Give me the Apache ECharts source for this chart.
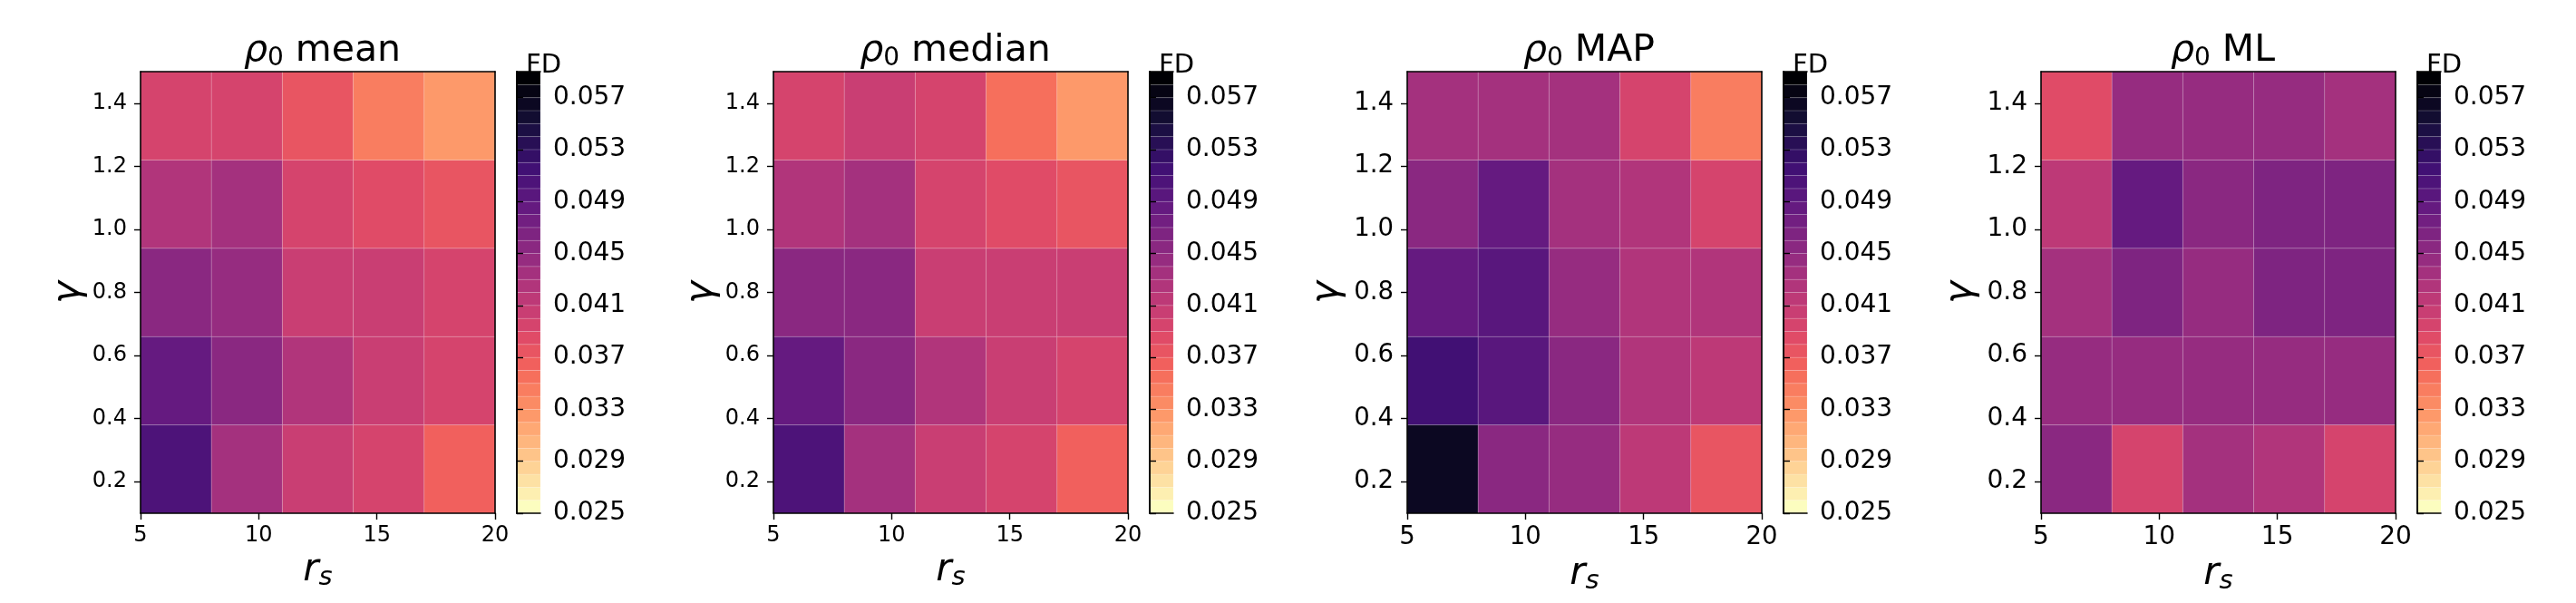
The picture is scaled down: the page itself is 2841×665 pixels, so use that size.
<!DOCTYPE html>
<html>
<head>
<meta charset="utf-8">
<script src="https://cdn.jsdelivr.net/npm/echarts@6/dist/echarts.min.js"></script>
<style>
  html, body { margin: 0; padding: 0; background: #fff; }
  #chart { width: 2841px; height: 665px; }
</style>
</head>
<body>
<div id="chart"></div>
<script>
// cell edges (imshow extent 5..20 x 0.1..1.5)
const rsEdges = [5, 8, 11, 14, 17, 20];
const gammaEdges = [0.1, 0.38, 0.66, 0.94, 1.22, 1.5];
const xTicks = [5, 10, 15, 20];
const yTicks = [0.2, 0.4, 0.6, 0.8, 1.0, 1.2, 1.4];
const cbTicks = [0.025, 0.029, 0.033, 0.037, 0.041, 0.045, 0.049, 0.053, 0.057];
// colorbar level boundaries
const fdLevels = [0.025, 0.026, 0.027, 0.028, 0.029, 0.030, 0.031, 0.032, 0.033, 0.034,
  0.035, 0.036, 0.037, 0.038, 0.039, 0.040, 0.041, 0.042, 0.043, 0.044, 0.045, 0.046,
  0.047, 0.048, 0.049, 0.050, 0.051, 0.052, 0.053, 0.054, 0.055, 0.056, 0.057, 0.058, 0.059];
const titles = ['mean', 'median', 'MAP', 'ML'];

// rows: gamma bottom -> top, columns: rs 5 -> 20
const fdMean = [
  [0.0505, 0.0437, 0.0406, 0.0391, 0.0364],
  [0.0488, 0.0459, 0.0425, 0.0405, 0.0396],
  [0.0459, 0.0447, 0.0406, 0.0405, 0.0398],
  [0.0425, 0.0437, 0.0396, 0.0383, 0.0372],
  [0.0394, 0.0394, 0.0374, 0.0345, 0.0321]
];
const fdMedian = [
  [0.0505, 0.0437, 0.0406, 0.0393, 0.0364],
  [0.0488, 0.0459, 0.0425, 0.0403, 0.0396],
  [0.0457, 0.0459, 0.0406, 0.0405, 0.0401],
  [0.0425, 0.0437, 0.0394, 0.0383, 0.0372],
  [0.0394, 0.0403, 0.0390, 0.0354, 0.0321]
];
const fdMap = [
  [0.0563, 0.0457, 0.0447, 0.0417, 0.0374],
  [0.0519, 0.0498, 0.0459, 0.0425, 0.0417],
  [0.0488, 0.0490, 0.0440, 0.0427, 0.0425],
  [0.0459, 0.0480, 0.0437, 0.0425, 0.0394],
  [0.0437, 0.0437, 0.0435, 0.0394, 0.0345]
];
const fdMl = [
  [0.0459, 0.0394, 0.0435, 0.0428, 0.0394],
  [0.0447, 0.0447, 0.0447, 0.0447, 0.0447],
  [0.0437, 0.0468, 0.0447, 0.0469, 0.0469],
  [0.0417, 0.0480, 0.0457, 0.0469, 0.0468],
  [0.0383, 0.0447, 0.0447, 0.0447, 0.0437]
];
const panels = [fdMean, fdMedian, fdMap, fdMl];

// magma anchors, reversed below
const MAGMA = [
  [0, '#000004'], [0.1, '#140e36'], [0.111, '#180f3e'], [0.2, '#3b0f70'], [0.222, '#451077'],
  [0.3, '#641a80'], [0.333, '#721f81'], [0.4, '#8c2981'], [0.444, '#9f2f7f'], [0.5, '#b73779'],
  [0.556, '#cd4071'], [0.6, '#de4968'], [0.667, '#f1605d'], [0.7, '#f7705c'], [0.778, '#fd9567'],
  [0.8, '#fe9f6d'], [0.889, '#fec98d'], [0.9, '#fecf92'], [1, '#fcfdbf']
];
function magma(t) {
  for (let i = 1; i < MAGMA.length; i++) {
    if (t <= MAGMA[i][0]) {
      const [t0, c0] = MAGMA[i - 1], [t1, c1] = MAGMA[i];
      const f = (t - t0) / (t1 - t0);
      const a = [1, 3, 5].map(k => parseInt(c0.substr(k, 2), 16));
      const b = [1, 3, 5].map(k => parseInt(c1.substr(k, 2), 16));
      return 'rgb(' + a.map((v, k) => Math.round(v + (b[k] - v) * f)).join(',') + ')';
    }
  }
  return MAGMA[MAGMA.length - 1][1];
}

const FONT = 'DejaVu Sans';
const panelLeft = [155, 853, 1552, 2251];
const plotTop = 79, plotW = 391, plotH = 487;
const cbGap = 24, cbW = 26;
const tickFont = [24, 24, 27.5, 28];
const yNameGap = [58, 58, 67, 67];
const xNameGap = [40, 40, 43, 43];

const nBands = fdLevels.length - 1;
const pieces = [];
for (let i = 0; i < nBands; i++) {
  const p = { gte: fdLevels[i], color: magma(1 - i / (nBands - 1)) };
  if (i === nBands - 1) p.lte = fdLevels[i + 1]; else p.lt = fdLevels[i + 1];
  pieces.push(p);
}

function renderCell(params, api) {
  const a = api.coord([api.value(0), api.value(3)]);
  const b = api.coord([api.value(1), api.value(2)]);
  return {
    type: 'rect',
    shape: { x: a[0], y: a[1], width: b[0] - a[0], height: b[1] - a[1] },
    style: { fill: api.visual('color'), stroke: 'rgba(255,255,255,0.14)', lineWidth: 1 }
  };
}

const frameLine = { show: true, lineStyle: { color: '#000', width: 1.6 } };
const grids = [], xAxes = [], yAxes = [], series = [], titleList = [];

panels.forEach((vals, p) => {
  const left = panelLeft[p];
  const cbLeft = left + plotW + cbGap;
  const gi = grids.length;
  grids.push({ left: left, top: plotTop, width: plotW, height: plotH });
  grids.push({ left: cbLeft, top: plotTop, width: cbW, height: plotH });

  // heatmap axes
  const xi = xAxes.length, yi = yAxes.length;
  xAxes.push({
    gridIndex: gi, type: 'value', min: 5, max: 20, interval: 5, position: 'bottom', z: 5,
    axisLine: frameLine,
    axisTick: { show: true, length: 7, lineStyle: { color: '#000', width: 1.4 } },
    axisLabel: { color: '#000', fontFamily: FONT, fontSize: tickFont[p], margin: 13 },
    splitLine: { show: false },
    name: '{r|r}{s|s}', nameLocation: 'middle', nameGap: xNameGap[p],
    nameTextStyle: {
      rich: {
        r: { fontFamily: FONT, fontStyle: 'italic', fontSize: 42, lineHeight: 46, color: '#000' },
        s: { fontFamily: FONT, fontStyle: 'italic', fontSize: 29, lineHeight: 22, verticalAlign: 'bottom', color: '#000' }
      }
    }
  });
  xAxes.push({
    gridIndex: gi, type: 'value', min: 5, max: 20, position: 'top', z: 5,
    axisLine: frameLine, axisTick: { show: false }, axisLabel: { show: false }, splitLine: { show: false }
  });
  yAxes.push({
    gridIndex: gi, type: 'value', min: 0.1, max: 1.5, position: 'left', z: 5,
    axisLine: frameLine,
    axisTick: { show: true, length: 7, customValues: yTicks, lineStyle: { color: '#000', width: 1.4 } },
    axisLabel: {
      customValues: yTicks, color: '#000', fontFamily: FONT, fontSize: tickFont[p], margin: 15,
      formatter: v => v.toFixed(1)
    },
    splitLine: { show: false },
    name: 'γ', nameLocation: 'middle', nameGap: yNameGap[p], nameRotate: 90,
    nameTextStyle: { fontFamily: FONT, fontStyle: 'italic', fontSize: 42, color: '#000' }
  });
  yAxes.push({
    gridIndex: gi, type: 'value', min: 0.1, max: 1.5, position: 'right', z: 5,
    axisLine: frameLine, axisTick: { show: false }, axisLabel: { show: false }, splitLine: { show: false }
  });

  const cells = [];
  vals.forEach((row, r) => row.forEach((v, c) => {
    cells.push([rsEdges[c], rsEdges[c + 1], gammaEdges[r], gammaEdges[r + 1], v]);
  }));
  series.push({
    type: 'custom', xAxisIndex: xi, yAxisIndex: yi, renderItem: renderCell,
    data: cells, encode: { x: [0, 1], y: [2, 3] }, z: 2
  });

  // colorbar axes
  const cxi = xAxes.length, cyi = yAxes.length;
  xAxes.push({
    gridIndex: gi + 1, type: 'value', min: 0, max: 1, position: 'bottom', z: 5,
    axisLine: frameLine, axisTick: { show: false }, axisLabel: { show: false }, splitLine: { show: false }
  });
  xAxes.push({
    gridIndex: gi + 1, type: 'value', min: 0, max: 1, position: 'top', z: 5,
    axisLine: frameLine, axisTick: { show: false }, axisLabel: { show: false }, splitLine: { show: false }
  });
  yAxes.push({
    gridIndex: gi + 1, type: 'value', min: fdLevels[0], max: fdLevels[nBands], position: 'right', z: 5,
    axisLine: frameLine,
    axisTick: { show: true, length: 7, customValues: cbTicks, lineStyle: { color: '#000', width: 1.4 } },
    axisLabel: {
      customValues: cbTicks, color: '#000', fontFamily: FONT, fontSize: 28, margin: 14,
      formatter: v => v.toFixed(3)
    },
    splitLine: { show: false }
  });
  yAxes.push({
    gridIndex: gi + 1, type: 'value', min: fdLevels[0], max: fdLevels[nBands], position: 'left', z: 5,
    axisLine: frameLine, axisTick: { show: false }, axisLabel: { show: false }, splitLine: { show: false }
  });
  const bands = [];
  for (let i = 0; i < nBands; i++) {
    bands.push([0, 1, fdLevels[i], fdLevels[i + 1], (fdLevels[i] + fdLevels[i + 1]) / 2]);
  }
  series.push({
    type: 'custom', xAxisIndex: cxi, yAxisIndex: cyi + 1, renderItem: renderCell,
    data: bands, encode: { x: [0, 1], y: [2, 3] }, z: 2
  });

  titleList.push({
    text: '{r|ρ}{s|0}{t| ' + titles[p] + '}',
    left: left + plotW / 2, top: 28, textAlign: 'center',
    textStyle: {
      fontWeight: 'normal',
      rich: {
        r: { fontFamily: FONT, fontStyle: 'italic', fontWeight: 'normal', fontSize: 41, lineHeight: 46, color: '#000' },
        s: { fontFamily: FONT, fontWeight: 'normal', fontSize: 28, lineHeight: 21, verticalAlign: 'bottom', color: '#000' },
        t: { fontFamily: FONT, fontWeight: 'normal', fontSize: 41, lineHeight: 46, color: '#000' }
      }
    }
  });
  titleList.push({
    text: 'FD', left: cbLeft + 5, top: 53,
    textStyle: { fontFamily: FONT, fontSize: 29, fontWeight: 'normal', color: '#000' }
  });
});

const chart = echarts.init(document.getElementById('chart'));
chart.setOption({
  backgroundColor: '#fff',
  animation: false,
  title: titleList,
  grid: grids,
  xAxis: xAxes,
  yAxis: yAxes,
  visualMap: {
    type: 'piecewise', show: false, dimension: 4,
    seriesIndex: series.map((s, i) => i),
    pieces: pieces
  },
  series: series
});
</script>
</body>
</html>
